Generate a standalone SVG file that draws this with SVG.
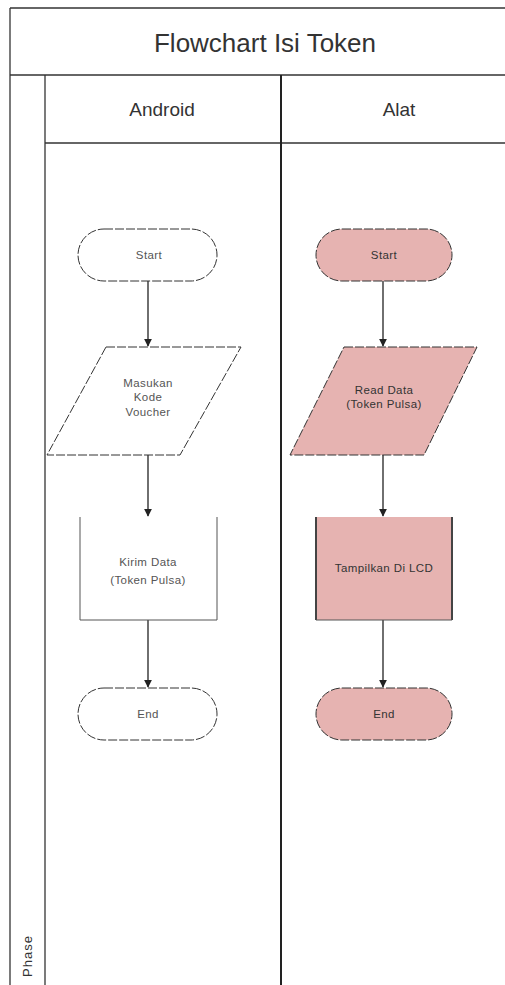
<svg xmlns="http://www.w3.org/2000/svg" width="505" height="985" viewBox="0 0 505 985">
<defs>
<style>
.frame{stroke:#333;stroke-width:1.3;fill:none}
.t{font-family:"Liberation Sans",Arial,sans-serif;fill:#333;text-anchor:middle}
.node{font-family:"Liberation Sans",Arial,sans-serif;font-size:11.5px;fill:#555;text-anchor:middle;letter-spacing:0.4px}
.dk{fill:#333}
.w{fill:#fff;stroke:#333;stroke-width:1;stroke-dasharray:9 2}
.p{fill:#e6b3b1;stroke:#333;stroke-width:1;stroke-dasharray:9 2}
.c{stroke:#222;stroke-width:1.3;fill:none}
</style>
<marker id="ah" viewBox="0 0 10 10" refX="9" refY="5" markerWidth="8" markerHeight="8" orient="auto" markerUnits="userSpaceOnUse">
<path d="M0,0 L10,5 L0,10 z" fill="#222"/>
</marker>
</defs>
<rect width="505" height="985" fill="#fff"/>
<g id="frame">
<line class="frame" x1="10" y1="8" x2="505" y2="8"/>
<line class="frame" x1="10" y1="8" x2="10" y2="985"/>
<line class="frame" x1="10" y1="75" x2="505" y2="75"/>
<line class="frame" x1="45" y1="75" x2="45" y2="985"/>
<line class="frame" x1="45" y1="143" x2="505" y2="143"/>
<line class="frame" x1="281" y1="75" x2="281" y2="985" style="stroke-width:2;stroke:#222"/>
<text class="t" x="265" y="52" font-size="26">Flowchart Isi Token</text>
<text class="t" x="162" y="116" font-size="19">Android</text>
<text class="t" x="399" y="116" font-size="19">Alat</text>
<text class="t" x="0" y="0" font-size="13" letter-spacing="1" transform="translate(32,977) rotate(-90)" style="text-anchor:start">Phase</text>
</g>
<g id="connectors">
<line class="c" x1="148" y1="281" x2="148" y2="346" marker-end="url(#ah)"/>
<line class="c" x1="148" y1="455" x2="148" y2="516" marker-end="url(#ah)"/>
<line class="c" x1="148" y1="620" x2="148" y2="687" marker-end="url(#ah)"/>
<line class="c" x1="383" y1="281" x2="383" y2="346" marker-end="url(#ah)"/>
<line class="c" x1="383" y1="455" x2="383" y2="516" marker-end="url(#ah)"/>
<line class="c" x1="383" y1="620" x2="383" y2="687" marker-end="url(#ah)"/>
</g>
<g id="a-start">
<rect class="w" x="78" y="229" width="139" height="52" rx="26"/>
<text class="node" x="149" y="259">Start</text>
</g>
<g id="a-input">
<polygon class="w" points="106,347 241,347 180,455 47,455"/>
<text class="node" x="148" y="387">Masukan</text>
<text class="node" x="148" y="401">Kode</text>
<text class="node" x="148" y="416">Voucher</text>
</g>
<g id="a-send">
<rect x="80" y="517" width="137" height="103" fill="#fff"/>
<path d="M80,517 V620 H217 V517" fill="none" stroke="#555" stroke-width="1"/>
<text class="node" x="148" y="566">Kirim Data</text>
<text class="node" x="148" y="584">(Token Pulsa)</text>
</g>
<g id="a-end">
<rect class="w" x="78" y="688" width="139" height="52" rx="26"/>
<text class="node" x="148" y="718">End</text>
</g>
<g id="b-start">
<rect class="p" x="316" y="229" width="136" height="52" rx="26"/>
<text class="node dk" x="384" y="259">Start</text>
</g>
<g id="b-input">
<polygon class="p" points="344,347 477,347 424,455 290,455"/>
<text class="node dk" x="384" y="394">Read Data</text>
<text class="node dk" x="384" y="408">(Token Pulsa)</text>
</g>
<g id="b-show">
<rect x="316" y="517" width="136" height="103" fill="#e6b3b1"/>
<line x1="316" y1="517" x2="316" y2="620" stroke="#444" stroke-width="2"/>
<line x1="452" y1="517" x2="452" y2="620" stroke="#444" stroke-width="2"/>
<line x1="316" y1="620" x2="452" y2="620" stroke="#555" stroke-width="1"/>
<text class="node dk" x="384" y="572">Tampilkan Di LCD</text>
</g>
<g id="b-end">
<rect class="p" x="316" y="688" width="136" height="52" rx="26"/>
<text class="node dk" x="384" y="718">End</text>
</g>
</svg>
